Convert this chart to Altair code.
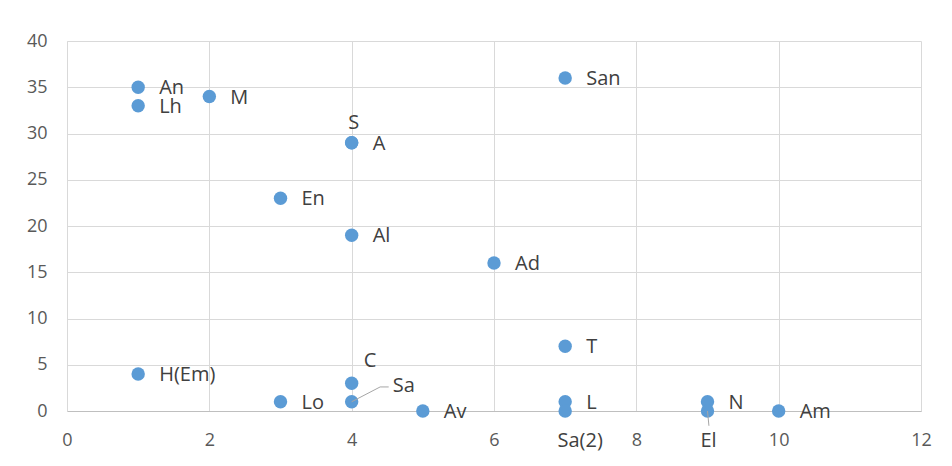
import altair as alt
import pandas as pd

names = ["An", "Lh", "M", "S", "A", "En", "Al", "Ad", "San", "T", "H(Em)", "C", "Sa", "Lo", "Av", "L", "Sa(2)", "N", "El", "Am"]
xs    = [1, 1, 2, 4, 4, 3, 4, 6, 7, 7, 1, 4, 4, 3, 5, 7, 7, 9, 9, 10]
ys    = [35, 33, 34, 29, 29, 23, 19, 16, 36, 7, 4, 3, 1, 1, 0, 1, 0, 1, 0, 0]

above_labels = ["S"]
upright_labels = ["C"]
far_labels = ["Sa"]
below_right_labels = ["Sa(2)"]
below_labels = ["El"]
special = above_labels + upright_labels + far_labels + below_right_labels + below_labels
right_labels = [n for n in names if n not in special]

df = pd.DataFrame({"name": names, "x": xs, "y": ys})

FONT = "Open Sans"
x_enc = alt.X("x:Q", scale=alt.Scale(domain=[0, 12], nice=False), title=None,
              axis=alt.Axis(values=[0, 2, 4, 6, 8, 10, 12], format="d", grid=True, gridColor="#d9d9d9",
                            domainColor="#bfbfbf", ticks=False, labelPadding=20, labelFlush=False,
                            labelColor="#595959", labelFontSize=18, labelFont=FONT))
y_enc = alt.Y("y:Q", scale=alt.Scale(domain=[0, 40], nice=False), title=None,
              axis=alt.Axis(values=[0, 5, 10, 15, 20, 25, 30, 35, 40], format="d", grid=True, gridColor="#d9d9d9",
                            domainColor="#d9d9d9", ticks=False, labelPadding=20, labelFlush=False,
                            labelColor="#595959", labelFontSize=18, labelFont=FONT))

base = alt.Chart(df)
points = base.mark_circle(size=180, color="#5B9BD5", opacity=1).encode(x=x_enc, y=y_enc)

def txt(names_list, **kw):
    return base.transform_filter(alt.FieldOneOfPredicate(field="name", oneOf=names_list)).mark_text(
        font=FONT, fontSize=20, color="#404040", **kw).encode(x="x:Q", y="y:Q", text="name:N")

right = txt(right_labels, align="left", baseline="middle", dx=21, dy=1)
above = txt(above_labels, align="center", baseline="middle", dy=-20, dx=2)
upright = txt(upright_labels, align="left", baseline="middle", dx=12, dy=-22)
far = txt(far_labels, align="left", baseline="middle", dx=41, dy=-16)
below_r = txt(below_right_labels, align="center", baseline="middle", dx=15, dy=30)
below = txt(below_labels, align="center", baseline="middle", dx=1, dy=30)

leader_sa = base.transform_filter(alt.FieldEqualPredicate(field="name", equal="Sa")).mark_rule(
    color="#a6a6a6", strokeWidth=1).encode(x="x:Q", y="y:Q",
    x2=alt.X2Datum(4.4), y2=alt.Y2Datum(2.6))
leader_sa2 = base.transform_filter(alt.FieldEqualPredicate(field="name", equal="Sa")).mark_rule(
    color="#a6a6a6", strokeWidth=1).encode(x=alt.XDatum(4.4), y=alt.YDatum(2.6),
    x2=alt.X2Datum(4.52), y2=alt.Y2Datum(2.6))
leader_el = base.transform_filter(alt.FieldEqualPredicate(field="name", equal="El")).mark_rule(
    color="#a6a6a6", strokeWidth=1).encode(x="x:Q", y="y:Q",
    x2=alt.X2Datum(9.02), y2=alt.Y2Datum(-1.6))

chart = alt.layer(points, leader_sa, leader_sa2, leader_el, right, above, upright, far, below_r, below).properties(
    width=854, height=370, autosize="none",
    padding={"left": 59, "top": 33, "right": 20, "bottom": 55}
).configure_view(stroke=None)

chart.save("out.html", embed_options={"renderer": "svg", "actions": False})
